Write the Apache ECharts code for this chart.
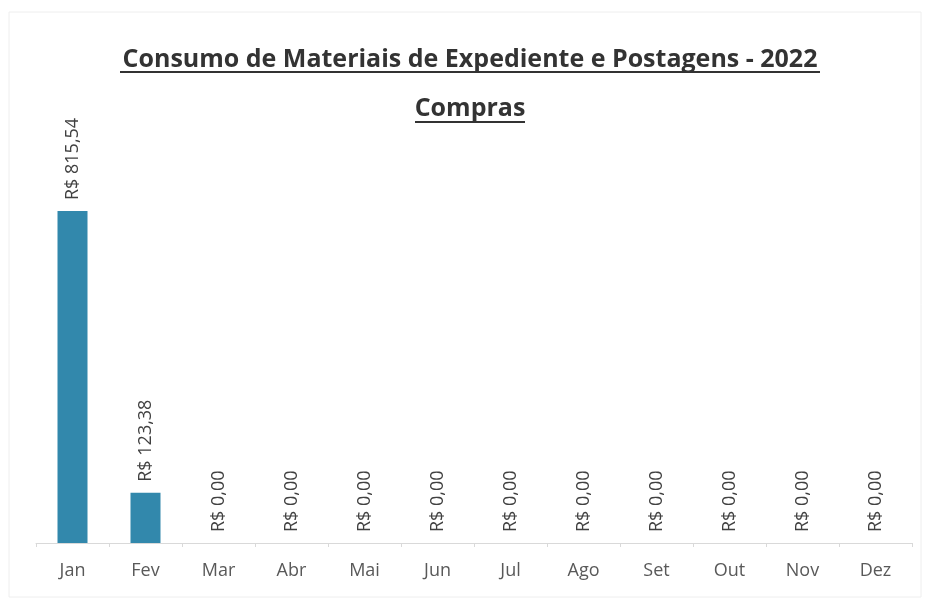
<!DOCTYPE html>
<html><head><meta charset="utf-8">
<script src="https://cdn.jsdelivr.net/npm/echarts@6/dist/echarts.min.js"></script>
<style>html,body{margin:0;padding:0;background:#fff}#c{width:929px;height:605px}</style>
</head><body><div id="c"></div>
<script>
const categories = ['Jan','Fev','Mar','Abr','Mai','Jun','Jul','Ago','Set','Out','Nov','Dez'];
const values = [815.54, 123.38, 0, 0, 0, 0, 0, 0, 0, 0, 0, 0];
const titleText = 'Consumo de Materiais de Expediente e Postagens - 2022';
const subtitleText = 'Compras';

function brl(v){ return 'R$ ' + v.toFixed(2).replace('.', ','); }

const chart = echarts.init(document.getElementById('c'));
chart.setOption({
  backgroundColor: '#fff',
  animation: false,
  title: [
    { text: titleText, left: 465, textAlign: 'center', top: 42,
      textStyle: { fontFamily: 'Open Sans', fontWeight: 'bold', fontSize: 25, color: '#333' } },
    { text: subtitleText, left: 465, textAlign: 'center', top: 91,
      textStyle: { fontFamily: 'Open Sans', fontWeight: 'bold', fontSize: 25, color: '#333' } }
  ],
  graphic: [
    { type: 'line', shape: { x1: 120, y1: 72, x2: 820, y2: 72 }, style: { stroke: '#333', lineWidth: 2 } },
    { type: 'line', shape: { x1: 415, y1: 122, x2: 525, y2: 122 }, style: { stroke: '#333', lineWidth: 2 } },
    { type: 'rect', shape: { x: 9, y: 12, width: 912, height: 585 }, style: { fill: 'none', stroke: '#eeeeee', lineWidth: 1 } }
  ],
  grid: { left: 36, right: 17, top: 136, bottom: 62 },
  xAxis: {
    type: 'category', data: categories,
    axisLine: { lineStyle: { color: '#d9d9d9' } },
    axisTick: { show: true, length: 4, lineStyle: { color: '#d9d9d9' } },
    axisLabel: { fontFamily: 'Open Sans', fontSize: 18, color: '#595959', margin: 19 }
  },
  yAxis: { type: 'value', min: 0, max: 1000, show: false, splitLine: { show: false } },
  series: [{
    type: 'bar', data: values, barWidth: 30,
    itemStyle: { color: '#3288ac' },
    label: {
      show: true, position: 'top', rotate: 90, align: 'left', verticalAlign: 'middle',
      distance: 11,
      fontFamily: 'Open Sans', fontSize: 18, color: '#404040',
      formatter: p => brl(p.value)
    }
  }]
});
</script></body></html>
